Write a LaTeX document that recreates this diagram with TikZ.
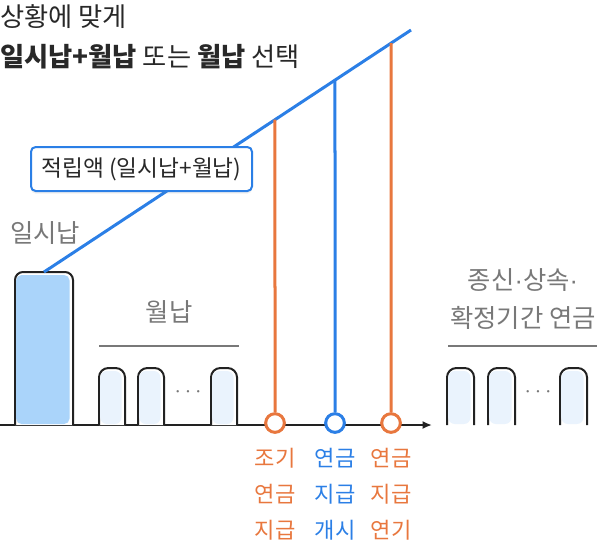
\documentclass[tikz,border=0pt]{standalone}
\usepackage{fontspec}
\setmainfont{Noto Sans CJK KR}
\newfontfamily\dotfont{Liberation Sans}
\usetikzlibrary{arrows.meta,calc,shadows}

\definecolor{lineblue}{RGB}{43,127,230}
\definecolor{lineorange}{RGB}{232,119,62}
\definecolor{barfill}{RGB}{170,212,250}
\definecolor{barlight}{RGB}{234,243,253}
\definecolor{textgray}{RGB}{120,120,120}
\definecolor{edgedark}{RGB}{34,34,34}
\definecolor{titledark}{RGB}{40,40,40}

\newcommand{\middot}{{\dotfont ·}}

\tikzset{
  titletext/.style={anchor=west,inner sep=0pt,text=titledark,font=\fontsize{19.7}{23}\selectfont},
  graylabel/.style={inner sep=0.75pt,text=textgray,font=\fontsize{19}{28.5}\selectfont,align=center},
  steplabel/.style={inner sep=0.75pt,font=\fontsize{16.6}{27}\selectfont,align=center},
  moredots/.style={text=textgray,inner sep=0pt,font=\fontsize{16}{18}\selectfont},
  milestone/.style={circle,fill=white,line width=2.25pt,minimum size=14pt,inner sep=0pt},
  barshape/.style={draw=edgedark,line width=1.5pt,fill=white,rounded corners=5pt},
  amountbox/.style={draw=lineblue,line width=1.5pt,fill=white,rounded corners=3.5pt,
    minimum width=165.75pt,minimum height=33pt,inner sep=0pt,
    drop shadow={opacity=0.12,shadow xshift=0pt,shadow yshift=-2pt},
    font=\fontsize{17}{20}\selectfont,text=titledark},
}

\begin{document}
\begin{tikzpicture}[x=0.75pt,y=0.75pt,yscale=-1,xscale=1]
\useasboundingbox (0,0) rectangle (602,544);

% Title
\node[titletext] (title1) at (0,17) {상황에 맞게};
\node[titletext] (title2) at (0,57) {\textbf{일시납+월납} 또는 \textbf{월납} 선택};

% Time axis
\coordinate (axisstart) at (0,425);
\coordinate (axisend) at (432,425);
\draw[edgedark,line width=1.5pt,-{Latex[length=7pt,width=6pt]}] (axisstart) -- (axisend);

% Lump sum bar
\draw[barshape,rounded corners=6pt] (15,425) -- (15,272) -- (73,272) -- (73,425);
\fill[barfill,rounded corners=4pt] (16.2,424) -- (16.2,275) -- (69.5,275) -- (69.5,424) -- cycle;
\node[graylabel] (lumplabel) at (45,233) {일시납};

% Monthly bars
\foreach \x in {99,138,211} {
  \draw[barshape,rounded corners=7pt] (\x,425) -- (\x,368) -- ({\x+26},368) -- ({\x+26},425);
  \fill[barlight,rounded corners=5pt] ({\x+1.2},424) -- ({\x+1.2},371) -- ({\x+22.5},371) -- ({\x+22.5},424) -- cycle;
}
\node[moredots] (monthdots) at (188,392) {$\cdots$};
\draw[textgray,line width=1.5pt] (99,346) -- (239,346);
\node[graylabel] (monthlabel) at (169,312) {월납};

% Annuity bars
\foreach \x in {447,488,560} {
  \draw[barshape,rounded corners=7pt] (\x,425) -- (\x,368) -- ({\x+27},368) -- ({\x+27},425);
  \fill[barlight,rounded corners=5pt] ({\x+1.2},424) -- ({\x+1.2},371) -- ({\x+23.5},371) -- ({\x+23.5},424) -- cycle;
}
\node[moredots] (annuitydots) at (538,392) {$\cdots$};
\draw[textgray,line width=1.5pt] (448,346) -- (597,346);
\node[graylabel] (annuitylabel) at (523,299) {종신\middot 상속\middot\\확정기간 연금};

% Accumulation line
\coordinate (lumptop) at (44,272);
\coordinate (lineend) at (411,30);
\draw[lineblue,line width=2.25pt] (lumptop) -- (lineend);
\node[amountbox] (amount) at (141.5,169) {적립액 (일시납+월납)};

% Milestones
\node[milestone,draw=lineorange] (early) at (275,423) {};
\node[milestone,draw=lineblue] (start) at (335,423) {};
\node[milestone,draw=lineorange] (defer) at (391,423) {};
\draw[lineorange,line width=2.25pt] (early) -- ($(lumptop)!0.6294!(lineend)$);
\draw[lineblue,line width=2.25pt] (start) -- ($(lumptop)!0.7929!(lineend)$);
\draw[lineorange,line width=2.25pt] (defer) -- ($(lumptop)!0.9455!(lineend)$);

% Text Node
\node[steplabel,text=lineorange] (earlylbl) at (275,494) {조기\\연금\\지급};
\node[steplabel,text=lineblue] (startlbl) at (335,494) {연금\\지급\\개시};
\node[steplabel,text=lineorange] (deferlbl) at (391,494) {연금\\지급\\연기};

\end{tikzpicture}
\end{document}
